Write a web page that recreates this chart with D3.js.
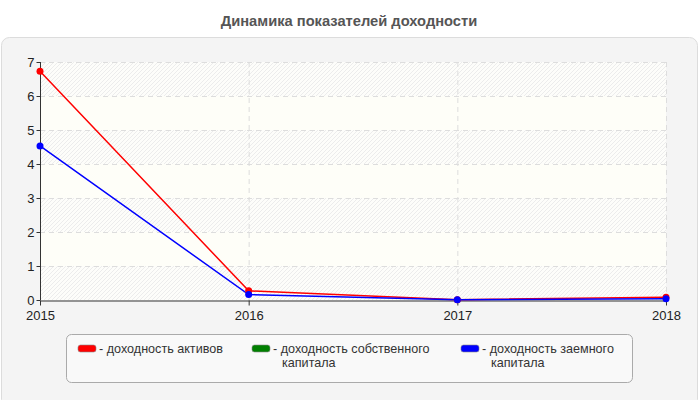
<!DOCTYPE html>
<html><head><meta charset="utf-8">
<script src="https://cdn.jsdelivr.net/npm/d3@7"></script>
<style>body{margin:0;background:#fff;font-family:"Liberation Sans",Arial,sans-serif}</style>
</head><body><svg id="c" width="700" height="400"></svg>
<script>
const years = ["2015","2016","2017","2018"];
const seriesNames = ["доходность активов","доходность собственного капитала","доходность заемного капитала"];
const seriesColors = ["#ff0000","#008000","#0000ff"];
const assets = [6.73, 0.27, 0.01, 0.08];
const equity = [null, null, null, null];
const borrowed = [4.53, 0.16, 0.01, 0.04];
const yTicks = [0,1,2,3,4,5,6,7];
const legendLines = [["- доходность активов"],["- доходность собственного","капитала"],["- доходность заемного","капитала"]];

const svg = d3.select("#c");
const defs = svg.append("defs");
const pat = defs.append("pattern").attr("id","hatch").attr("patternUnits","userSpaceOnUse")
  .attr("width",4).attr("height",4);
pat.append("rect").attr("width",4).attr("height",4).attr("fill","#fdfdfa");
pat.append("path").attr("d","M-1,1 l2,-2 M0,4 l4,-4 M3,5 l2,-2").attr("stroke","#ececec").attr("stroke-width",1);

svg.append("text").attr("x",349).attr("y",26).attr("text-anchor","middle")
  .attr("font-size",14.7).attr("font-weight","bold").attr("fill","#555").text("Динамика показателей доходности");

svg.append("rect").attr("x",1.5).attr("y",37.5).attr("width",696).attr("height",370).attr("rx",8)
  .attr("fill","#f4f4f4").attr("stroke","#dcdcdc");

const x = d3.scalePoint().domain(years).range([40,666]);
const y = d3.scaleLinear().domain([0,7]).range([300,62]);

const g = svg.append("g");
for (let i=0;i<7;i++){
  g.append("rect").attr("x",40).attr("width",626).attr("y",y(i+1)).attr("height",y(i)-y(i+1))
    .attr("fill", i%2===0 ? "url(#hatch)" : "#fefef8");
}
g.selectAll(".hg").data(yTicks.slice(1)).join("line").attr("x1",40).attr("x2",666)
  .attr("y1",d=>y(d)+0.5).attr("y2",d=>y(d)+0.5).attr("stroke","#dddddd").attr("stroke-dasharray","5,4");
g.selectAll(".vg").data(years.slice(1)).join("line").attr("y1",62).attr("y2",300)
  .attr("x1",d=>x(d)+0.5).attr("x2",d=>x(d)+0.5).attr("stroke","#dddddd").attr("stroke-dasharray","5,4");

const ya = svg.append("g").attr("transform","translate(40.5,0)")
  .call(d3.axisLeft(y).tickValues(yTicks).tickSize(4).tickFormat(d3.format("d")));
ya.select(".domain").attr("stroke","#333").attr("d","M0,62V300");
ya.selectAll("line").attr("stroke","#333");
ya.selectAll("text").attr("font-size",13).attr("fill","#222").attr("x",-6).attr("font-family","Liberation Sans, Arial");
const xa = svg.append("g").attr("transform","translate(0,300.5)")
  .call(d3.axisBottom(x).tickSize(5).tickSizeOuter(0));
xa.select(".domain").attr("stroke","#333");
xa.selectAll("line").attr("stroke","#333");
xa.selectAll("text").attr("font-size",13).attr("fill","#222").attr("y",8).attr("dy","0.9em").attr("font-family","Liberation Sans, Arial");

const data = [assets, equity, borrowed];
const line = d3.line().defined(d=>d!=null).x((d,i)=>x(years[i])).y(d=>y(d));
data.forEach((s,k)=>{
  svg.append("path").attr("d",line(s)).attr("fill","none").attr("stroke",seriesColors[k]).attr("stroke-width",1.5);
});
data.forEach((s,k)=>{
  svg.selectAll(".pt"+k).data(s.map((v,i)=>({v,i})).filter(d=>d.v!=null)).join("circle")
    .attr("cx",d=>x(years[d.i])).attr("cy",d=>y(d.v)).attr("r",3.5).attr("fill",seriesColors[k]);
});

svg.append("rect").attr("x",66.5).attr("y",334.5).attr("width",566).attr("height",48).attr("rx",5)
  .attr("fill","#f9f9f9").attr("stroke","#aaaaaa");
const lx = [78, 252, 461];
lx.forEach((px,k)=>{
  svg.append("rect").attr("x",px).attr("y",345).attr("width",18).attr("height",7).attr("rx",2.5)
    .attr("fill",seriesColors[k]).attr("stroke","#888").attr("stroke-width",0.6);
  legendLines[k].forEach((l,j)=>{
    svg.append("text").attr("x", j===0 ? px+21 : px+30).attr("y", 352.5 + j*14.5)
      .attr("font-size",12.6).attr("fill","#333").text(l);
  });
});
</script></body></html>
